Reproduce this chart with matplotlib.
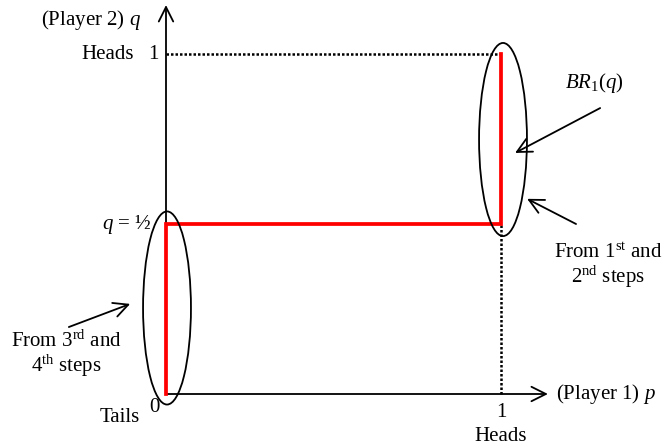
import matplotlib.pyplot as plt
from matplotlib.patches import Ellipse

# best response of player 1 to q
br_p = [0, 0, 1, 1]
br_q = [0, 0.5, 0.5, 1]

# ellipses marking the pieces (center p, center q)
ell_centers = [(1.006, 0.7485), (0.003, 0.253)]
ell_w, ell_h = 0.143, 0.568

plt.rcParams['font.family'] = ['Liberation Serif', 'DejaVu Serif']
plt.rcParams['mathtext.fontset'] = 'custom'
plt.rcParams['mathtext.rm'] = 'Liberation Serif'
plt.rcParams['mathtext.it'] = 'Liberation Serif:italic'

fig = plt.figure(figsize=(6.69, 4.48), dpi=100)
ax = fig.add_axes([0, 0, 1, 1])
ax.set_xlim(-166 / 335, 503 / 335)
ax.set_ylim(-54 / 340, 394 / 340)
ax.axis('off')

fs = 15
arr = dict(arrowstyle='->', color='black', lw=1.3, mutation_scale=26, shrinkA=0, shrinkB=0)

# axes with arrows
ax.annotate('', xy=(0, 1.144), xytext=(0, 0), arrowprops=arr)
ax.annotate('', xy=(1.14, 0), xytext=(0, 0), arrowprops=arr)

# dotted guides
ax.plot([0, 1], [1, 1], color='black', lw=1.8, ls=(0, (1, 0.8)))
ax.plot([1, 1], [0, 0.5], color='black', lw=1.8, ls=(0, (1, 0.8)))

# best response
ax.plot(br_p, br_q, color='red', lw=2.7, solid_joinstyle='miter', zorder=3)

for c in ell_centers:
    ax.add_patch(Ellipse(c, ell_w, ell_h, fill=False, ec='black', lw=1.3, zorder=4))

# pointing arrows
ax.annotate('', xy=(1.042, 0.709), xytext=(1.296, 0.841), arrowprops=arr)
ax.annotate('', xy=(1.078, 0.574), xytext=(1.224, 0.5), arrowprops=arr)
ax.annotate('', xy=(-0.107, 0.265), xytext=(-0.290, 0.197), arrowprops=arr)

# labels
ax.text(-0.075, 1.1, '(Player 2) $q$', fontsize=fs, ha='right', va='center')
ax.text(-0.0955, 1.0, 'Heads', fontsize=fs, ha='right', va='center')
ax.text(-0.039, 1.0, '1', fontsize=fs, ha='center', va='center')
ax.text(-0.042, 0.5, '$q$ = ½', fontsize=fs, ha='right', va='center')
ax.text(-0.078, -0.068, 'Tails', fontsize=fs, ha='right', va='center')
ax.text(-0.036, -0.041, '0', fontsize=fs, ha='center', va='center')
ax.text(1.0, -0.053, '1', fontsize=fs, ha='center', va='center')
ax.text(1.0, -0.124, 'Heads', fontsize=fs, ha='center', va='center')
ax.text(1.164, 0.0, '(Player 1) $p$', fontsize=fs, ha='left', va='center')
ax.text(1.28, 0.915, '$BR_1(q)$', fontsize=fs, ha='center', va='center')
ax.text(1.319, 0.374, 'From 1$^{\\mathrm{st}}$ and\n2$^{\\mathrm{nd}}$ steps', fontsize=fs,
        ha='center', va='center', linespacing=1.05)
ax.text(-0.296, 0.115, 'From 3$^{\\mathrm{rd}}$ and\n4$^{\\mathrm{th}}$ steps', fontsize=fs,
        ha='center', va='center', linespacing=1.05)

fig.savefig('out.png', dpi=100)
